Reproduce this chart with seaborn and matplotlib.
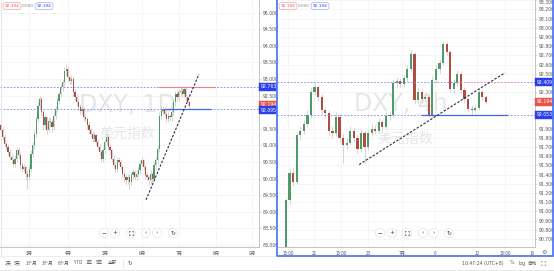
import numpy as np
import matplotlib
matplotlib.use("Agg")
import matplotlib.pyplot as plt
from matplotlib.patches import Circle, Rectangle
import seaborn as sns

# ---------------- data ----------------
# Left panel: DXY daily candles
left_first_open = 91.60
left_close = [91.45,91.25,91.05,90.95,90.80,90.65,90.55,90.45,90.60,90.85,
              90.70,90.40,90.30,90.35,90.15,90.05,90.30,90.75,91.00,91.35,
              91.80,92.20,92.40,92.00,91.60,91.85,91.45,91.75,91.70,91.55,
              91.90,92.10,92.35,92.55,92.75,92.90,93.25,93.30,93.05,92.95,
              93.00,92.60,92.45,92.30,92.15,92.05,92.10,91.85,91.80,91.60,
              91.45,91.35,91.20,91.30,91.10,90.95,90.80,90.60,90.85,91.10,
              91.25,90.95,90.85,90.60,90.40,90.30,90.55,90.50,90.35,90.15,
              90.05,89.95,90.05,89.90,90.10,90.20,90.05,90.15,90.25,90.45,
              90.55,90.35,90.10,90.05,89.95,90.15,90.00,90.40,90.55,90.90,
              91.90,92.05,92.10,91.95,91.80,91.90,91.85,92.00,92.30,92.55,
              92.45,92.60,92.65,92.55,92.70,92.45,92.30,92.194]
left_high = [91.70,91.55,91.35,91.15,91.05,90.90,90.75,90.65,90.70,90.95,
             90.95,90.80,90.50,90.45,90.40,90.25,90.40,90.85,91.10,91.45,
             91.90,92.30,92.50,92.45,92.10,91.95,91.90,91.85,91.85,91.80,
             92.00,92.20,92.45,92.65,92.85,93.00,93.35,93.44,93.35,93.15,
             93.10,93.05,92.70,92.55,92.40,92.25,92.20,92.15,91.95,91.85,
             91.70,91.55,91.45,91.40,91.35,91.20,91.05,90.85,90.95,91.20,
             91.35,91.30,91.05,90.90,90.70,90.50,90.65,90.65,90.60,90.40,
             90.25,90.15,90.15,90.10,90.20,90.30,90.25,90.25,90.35,90.55,
             90.65,90.60,90.40,90.20,90.10,90.25,90.20,90.50,90.65,91.00,
             92.00,92.15,92.20,92.15,92.00,92.00,91.95,92.10,92.40,92.65,
             92.65,92.70,92.75,92.75,92.80,92.75,92.50,92.35]
left_low = [91.35,91.15,90.95,90.85,90.70,90.55,90.45,90.35,90.35,90.50,
            90.60,90.30,90.20,90.20,89.95,89.70,89.95,90.20,90.65,90.90,
            91.25,91.70,92.10,91.90,91.45,91.50,91.35,91.40,91.55,91.40,
            91.45,91.80,92.00,92.25,92.45,92.65,92.80,93.10,92.95,92.85,
            92.85,92.50,92.35,92.20,92.05,91.95,91.95,91.75,91.70,91.50,
            91.35,91.25,91.10,91.10,91.00,90.85,90.70,90.50,90.50,90.75,
            91.00,90.85,90.75,90.50,90.30,90.20,90.20,90.40,90.25,90.05,
            89.90,89.80,89.85,89.70,89.80,90.00,89.95,89.95,90.05,90.15,
            90.35,90.25,90.00,89.95,89.80,89.85,89.90,89.95,90.30,90.45,
            90.80,91.80,91.95,91.85,91.70,91.70,91.75,91.75,91.90,92.20,
            92.35,92.35,92.50,92.45,92.45,92.35,92.20,92.10]
left_xtick_pos = [15.9, 38.1, 59.1, 80.1, 101.1, 122.2, 142.6]
left_xtick_lab = ["3月", "4月", "5月", "6月", "7月", "8月", "9月"]
left_yticks = [88.0, 88.5, 89.0, 89.5, 90.0, 90.5, 91.0, 91.5, 92.5,
               93.0, 93.5, 94.0, 94.5, 95.0]
left_resist = 92.763
left_support = 92.095
left_trend_x = [82.4, 112.5]
left_trend_y = [89.36, 93.15]
left_red_seg = [89.8, 121.6]
left_blue_seg = [93.2, 119.3]

# Right panel: DXY 4h candles
right_first_open = 90.45
right_close = [91.12,91.42,91.32,91.83,91.88,91.95,92.05,92.30,92.36,92.25,
               92.10,92.07,91.88,91.85,92.03,91.80,91.72,91.75,91.88,91.80,
               91.68,91.85,91.70,91.85,91.90,91.88,91.97,91.92,92.04,92.05,
               92.40,92.42,92.39,92.45,92.55,92.72,92.21,92.30,92.22,92.25,
               92.05,92.43,92.55,92.62,92.82,92.74,92.33,92.40,92.50,92.32,
               92.22,92.12,92.10,92.13,92.30,92.25,92.194]
right_high = [91.15,91.47,91.48,91.87,91.93,92.00,92.10,92.34,92.40,92.38,
              92.28,92.14,92.10,91.93,92.08,92.06,91.84,91.80,91.93,91.92,
              91.83,91.90,91.88,91.89,91.95,91.94,92.02,92.00,92.08,92.09,
              92.44,92.46,92.45,92.49,92.60,92.76,92.74,92.35,92.33,92.29,
              92.28,92.47,92.60,92.66,92.86,92.85,92.76,92.44,92.54,92.53,
              92.35,92.25,92.16,92.17,92.34,92.33,92.27]
right_low = [90.35,91.08,91.28,91.30,91.78,91.84,91.92,92.02,92.26,92.20,
             92.06,92.02,91.83,91.80,91.82,91.76,91.53,91.68,91.72,91.76,
             91.64,91.65,91.53,91.67,91.82,91.84,91.85,91.88,91.90,92.00,
             92.02,92.36,92.35,92.36,92.42,92.52,92.17,92.18,92.18,92.19,
             92.03,92.03,92.40,92.51,92.59,92.70,92.30,92.29,92.37,92.28,
             92.18,92.08,92.06,92.07,92.10,92.21,92.17]
right_xtick_pos = [0.56, 7.84, 15.41, 22.97, 32.49, 41.74, 53.5, 61.34, 68.91]
right_xtick_lab = ["15:00", "21", "15:00", "23", "7月", "6", "12", "15:00", "19"]
right_yticks = [90.7, 90.8, 90.9, 91.0, 91.1, 91.2, 91.3, 91.4, 91.5, 91.6,
                91.7, 91.8, 91.9, 92.3, 92.5, 92.6, 92.7, 92.8, 92.9, 93.0,
                93.1, 93.2, 93.3]
right_resist = 92.409
right_support = 92.053
right_trend_x = [20.5, 61.3]
right_trend_y = [91.51, 92.51]
right_pink_seg = [48.0, 65.6]
right_blue_seg = [38.0, 62.0]

last_price = 92.194
symbol = "DXY"
name = "美元指数"

# ---------------- style ----------------
sns.set_theme(style="white")
plt.rcParams['font.family'] = ['DejaVu Sans', 'Noto Sans CJK SC']
CJK = ['Noto Sans CJK SC', 'DejaVu Sans']

UP, DOWN, WICK = '#4f9a6b', '#b24b42', '#c9c9c9'
AX_COL = '#c4c4c4'
TXT = '#555555'
DOT_BLUE = '#7d7df0'
TAG_BLUE = '#2b3ff0'
TAG_RED = '#e8534b'
FS = 3.3

W, H = 554, 271
fig = plt.figure(figsize=(W / 100, H / 100), dpi=100)
fig.patch.set_facecolor('white')


def px_axes(x0, y0, x1, y1, **kw):
    return fig.add_axes([x0 / W, 1 - y1 / H, (x1 - x0) / W, (y1 - y0) / H], **kw)


axL = px_axes(0, 0, 259, 247)
axR = px_axes(277, 0, 535, 247)
ov = fig.add_axes([0, 0, 1, 1], zorder=10)
ov.set_xlim(0, W)
ov.set_ylim(H, 0)
ov.axis('off')
ov.patch.set_alpha(0)


def candles(ax, first_open, close, high, low, width):
    c = np.asarray(close, float)
    o = np.concatenate([[first_open], c[:-1]])
    h = np.asarray(high, float)
    l = np.asarray(low, float)
    x = np.arange(len(c))
    col = np.where(c >= o, UP, DOWN)
    ax.vlines(x, l, h, colors=WICK, lw=0.55, zorder=3)
    body = np.maximum(np.abs(c - o), 0.012)
    ax.bar(x, body, bottom=np.minimum(o, c), width=width, color=col,
           lw=0, zorder=4)


def style_axis(ax, xticks, xlabels, yticks, fmt):
    for s in ['top', 'left']:
        ax.spines[s].set_visible(False)
    for s in ['right', 'bottom']:
        ax.spines[s].set_color(AX_COL)
        ax.spines[s].set_linewidth(0.7)
    ax.yaxis.tick_right()
    ax.set_yticks(yticks)
    ax.set_yticklabels([fmt.format(v) for v in yticks])
    ax.set_xticks(xticks)
    ax.set_xticklabels(xlabels, family=CJK)
    ax.tick_params(axis='both', labelsize=FS, colors=AX_COL, labelcolor=TXT,
                   length=1.5, width=0.4, pad=1.2)
    ax.grid(True, color='#f1f1f1', lw=0.5)
    ax.set_axisbelow(True)
    ax.set_xlabel('')
    ax.set_ylabel('')


def tag(ax, y, text, fc):
    ax.annotate(text, xy=(1, y), xycoords=('axes fraction', 'data'),
                xytext=(1.2, 0), textcoords='offset points', ha='left',
                va='center', fontsize=FS, color='white',
                bbox=dict(boxstyle='square,pad=0.35', fc=fc, ec=fc, lw=0.3),
                annotation_clip=False, zorder=20)


# ---------------- left panel ----------------
axL.set_xlim(-0.57, 146.6)
axL.set_ylim(87.94, 95.38)
axL.text(127, 105, f"{symbol}, 1D", transform=ov.transData, fontsize=17,
         color='#e6e6e6', ha='center', va='center', zorder=1)
axL.text(127, 134, name, transform=ov.transData, fontsize=10, family=CJK,
         color='#e6e6e6', ha='center', va='center', zorder=1)
candles(axL, left_first_open, left_close, left_high, left_low, 0.7)
style_axis(axL, left_xtick_pos, left_xtick_lab, left_yticks, "{:.3f}")
for lv in (left_resist, left_support):
    axL.axhline(lv, color=DOT_BLUE, lw=0.6, ls=(0, (2, 2)), zorder=5)
axL.plot(left_red_seg, [left_resist] * 2, color='#ef7f8f', lw=0.8, zorder=6)
axL.plot(left_blue_seg, [left_support] * 2, color='#3b6be6', lw=0.9, zorder=6)
sns.lineplot(x=left_trend_x, y=left_trend_y, ax=axL, color='#2d2d4d',
             lw=0.8, linestyle=(0, (2.2, 1.4)), zorder=7)
tag(axL, left_resist, f"{left_resist:.3f}", TAG_BLUE)
tag(axL, last_price + 0.03, f"{last_price:.3f}", TAG_RED)
tag(axL, left_support - 0.03, f"{left_support:.3f}", TAG_BLUE)

# ---------------- right panel ----------------
axR.set_xlim(-2.52, 69.75)
axR.set_ylim(90.612, 93.303)
axR.text(401, 104, f"{symbol}, 4h", transform=ov.transData, fontsize=17,
         color='#e6e6e6', ha='center', va='center', zorder=1)
axR.text(405, 139, name, transform=ov.transData, fontsize=10, family=CJK,
         color='#e6e6e6', ha='center', va='center', zorder=1)
candles(axR, right_first_open, right_close, right_high, right_low, 0.62)
style_axis(axR, right_xtick_pos, right_xtick_lab, right_yticks, "{:.3f}")
# the top-most price label sits against the top edge: hang it from the tick
axR.get_yticklabels()[-1].set_va('top')
for lv in (right_resist, right_support):
    axR.axhline(lv, color=DOT_BLUE, lw=0.6, ls=(0, (2, 2)), zorder=5)
axR.plot(right_pink_seg, [right_resist] * 2, color='#f3a6bd', lw=0.8,
         ls=(0, (2, 1)), zorder=6)
axR.plot(right_blue_seg, [right_support] * 2, color='#3b6be6', lw=0.9, zorder=6)
sns.lineplot(x=right_trend_x, y=right_trend_y, ax=axR, color='#2d2d4d',
             lw=0.8, linestyle=(0, (2.2, 1.4)), zorder=7)
tag(axR, right_resist, f"{right_resist:.3f}", TAG_BLUE)
tag(axR, last_price, f"{last_price:.3f}", TAG_RED)
tag(axR, right_support, f"{right_support:.3f}", TAG_BLUE)

# ---------------- chrome / overlay ----------------
def header(x0):
    ov.text(x0 + 9, 6, f"{last_price:.3f}", fontsize=FS - 0.2, color=TAG_RED,
            ha='center', va='center',
            bbox=dict(boxstyle='round,pad=0.35,rounding_size=0.6', fc='white',
                      ec='#f2a5a5', lw=0.5))
    ov.text(x0 + 25, 6, "0.000", fontsize=FS - 0.2, color='#888888',
            ha='center', va='center')
    ov.text(x0 + 41, 6, f"{last_price:.3f}", fontsize=FS - 0.2, color=TAG_BLUE,
            ha='center', va='center',
            bbox=dict(boxstyle='round,pad=0.35,rounding_size=0.6', fc='white',
                      ec='#9fb0f5', lw=0.5))


header(3)
header(279)


def fullscreen_icon(x, y, r=1.9, col='#444444', lw=0.45):
    # four corner brackets (the glyph is missing from installed fonts)
    for sx in (-1, 1):
        for sy in (-1, 1):
            cx, cy = x + sx * r, y + sy * r
            ov.plot([cx, cx - sx * 1.0], [cy, cy], color=col, lw=lw)
            ov.plot([cx, cx], [cy, cy - sy * 1.0], color=col, lw=lw)


def buttons(xs, y):
    syms = ["−", "+", None, "‹", "›", "↻"]
    for x, s in zip(xs, syms):
        ov.add_patch(Circle((x, y), 4.6, fc='white', ec='#e4e4e4', lw=0.5))
        if s is None:
            fullscreen_icon(x, y)
        else:
            ov.text(x, y, s, fontsize=4.2, color='#444444', ha='center',
                    va='center', family=['DejaVu Sans'])


buttons([104, 115, 131, 146, 157, 173], 233)
buttons([380, 392, 407, 423, 434, 449], 233)

# blue selection frame around right chart
ov.plot([277, 277], [0, 256], color='#4f7cf0', lw=1.3)
ov.plot([277, 553], [256, 256], color='#4f7cf0', lw=1.3)
ov.plot([553, 553], [0, 256], color='#4f7cf0', lw=1.3)
ov.plot([0.5, 0.5], [0, 256], color='#e0e0e0', lw=0.6)

# left bottom toolbar
ov.plot([0, 276], [256, 256], color='#e6e6e6', lw=0.5)
ranges = ["1天", "5天", "1个月", "3个月", "6个月", "YTD", "1年", "5年", "全部"]
rx = [8, 17, 32, 48, 64, 78, 89, 99, 112]
for x, s in zip(rx, ranges):
    ov.text(x, 263, s, fontsize=FS, color=TXT, ha='center', va='center',
            family=CJK)
ov.plot([123, 123], [259.5, 266.5], color='#dddddd', lw=0.5)
ov.text(130, 263, "↻", fontsize=4, color=TXT, ha='center', va='center',
        family=['DejaVu Sans'])

# right bottom toolbar
ov.text(483, 263, "10:47:24 (UTC+8)", fontsize=FS, color=TXT, ha='center',
        va='center')
ov.text(512, 263, "%", fontsize=FS, color=TXT, ha='center', va='center')
ov.text(522, 263, "log", fontsize=FS, color=TXT, ha='center', va='center')
ov.text(532, 263, "自动", fontsize=FS, color=TXT, ha='center', va='center',
        family=CJK)
fullscreen_icon(543, 263, r=1.8, col='#777777', lw=0.4)
ov.text(544, 252, "⚙", fontsize=4.5, color='#666666', ha='center',
        va='center', family=['DejaVu Sans'])
ov.plot([0, 554], [269.5, 269.5], color='#e2e2e2', lw=0.6)

fig.savefig("out.png", dpi=100, facecolor='white')
